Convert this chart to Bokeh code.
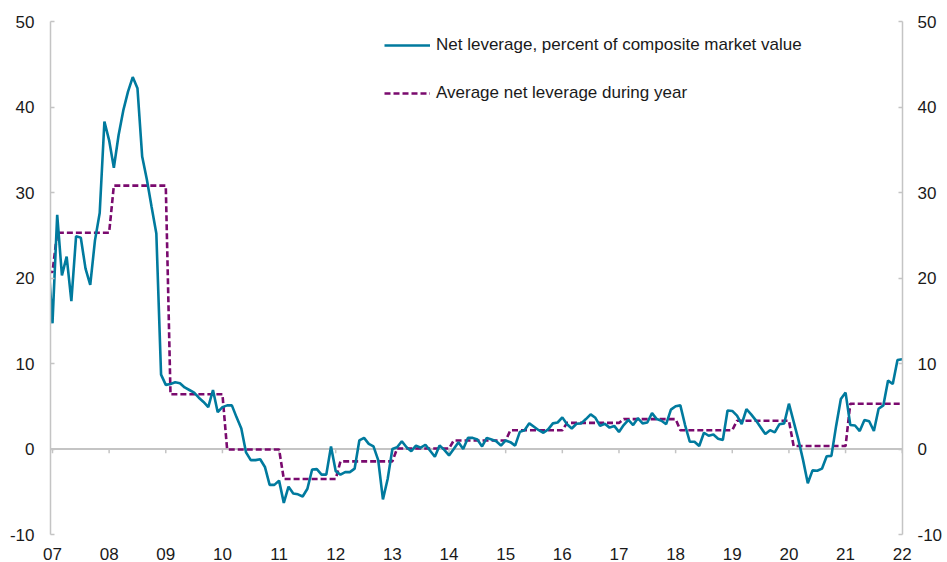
from bokeh.plotting import figure
from bokeh.models import (Range1d, LinearAxis, FixedTicker, Span, Legend, LegendItem,
                          ColumnDataSource)
from bokeh.embed import file_html
from bokeh.resources import INLINE

# ---- data ----
# month index: -1 = Nov 2006, 0 = Dec 2006, ..., 180 = Dec 2021 (month-end values)
month_index = list(range(-1, 181))
net_leverage = [
    23.0, 14.7,
    27.4, 20.3, 22.5, 17.3, 24.9, 24.7, 21.1, 19.2, 24.4, 27.6, 38.3, 36.1,   # 2007
    32.9, 36.7, 39.6, 41.8, 43.5, 42.2, 34.2, 31.5, 28.3, 25.2, 8.7, 7.5,     # 2008
    7.6, 7.8, 7.7, 7.2, 6.9, 6.6, 6.0, 5.5, 4.9, 6.9, 4.3, 4.9,               # 2009
    5.1, 5.1, 3.7, 2.4, -0.4, -1.3, -1.3, -1.2, -2.1, -4.2, -4.2, -3.7,       # 2010
    -6.3, -4.4, -5.2, -5.3, -5.55, -4.65, -2.4, -2.35, -3.0, -3.0, 0.3, -2.6, # 2011
    -3.0, -2.7, -2.7, -2.3, 1.0, 1.3, 0.6, 0.3, -1.3, -5.9, -3.5, 0.0,        # 2012
    0.2, 0.9, 0.2, -0.25, 0.4, 0.15, 0.5, -0.2, -0.9, 0.4, -0.1, -0.75,       # 2013
    0.0, 0.8, 0.0, 1.3, 1.3, 1.1, 0.3, 1.3, 1.1, 0.9, 0.4, 1.0,               # 2014
    0.8, 0.4, 2.0, 2.2, 3.0, 2.6, 2.2, 1.9, 2.3, 3.0, 3.1, 3.7,               # 2015
    2.9, 2.4, 2.95, 3.0, 3.5, 4.05, 3.65, 2.7, 2.95, 2.5, 2.7, 2.0,           # 2016
    2.8, 3.4, 2.8, 3.6, 3.0, 3.1, 4.2, 3.5, 3.3, 2.9, 4.6, 5.0,               # 2017
    5.1, 2.8, 0.85, 0.85, 0.35, 1.9, 1.55, 1.7, 1.2, 1.05, 4.5, 4.45,         # 2018
    3.9, 2.9, 4.65, 4.05, 3.35, 2.55, 1.75, 2.2, 1.95, 2.9, 3.0, 5.3,         # 2019
    3.2, 1.1, -1.3, -4.0, -2.5, -2.55, -2.3, -0.85, -0.8, 2.7, 5.85, 6.6,     # 2020
    2.8, 2.75, 2.1, 3.4, 3.25, 2.1, 4.7, 5.1, 8.0, 7.6, 10.4, 10.5,           # 2021
]
avg_years = [2006, 2007, 2008, 2009, 2010, 2011, 2012, 2013, 2014, 2015,
             2016, 2017, 2018, 2019, 2020, 2021]
annual_avg = [20.7, 25.3, 30.8, 6.4, -0.05, -3.5, -1.45, 0.05, 1.0, 2.2,
              3.05, 3.5, 2.2, 3.3, 0.35, 5.3]
tick_years = list(range(2007, 2023))
tick_labels = ["07", "08", "09", "10", "11", "12", "13", "14", "15", "16",
               "17", "18", "19", "20", "21", "22"]
y_ticks = [-10, 0, 10, 20, 30, 40, 50]
y_labels = ["-10", "0", "10", "20", "30", "40", "50"]

# ---- build series ----
xs = [2007 + m / 12 for m in month_index]
avg_lookup = dict(zip(avg_years, annual_avg))
# month m (>=1) belongs to calendar year 2007 + (m-1)//12 ; m<=0 -> 2006
step_vals = [avg_lookup[2006 if m <= 0 else 2007 + (m - 1) // 12] for m in month_index]

src = ColumnDataSource(dict(x=xs, lev=net_leverage, avg=step_vals))

BLUE = "#007a9e"
PURPLE = "#7a0a6e"
GRAY = "#c4c4c4"
FONT = "Liberation Sans"
TXT = "#1a1a1a"

p = figure(width=947, height=562, output_backend="svg", toolbar_location=None,
           x_range=Range1d(2006.965, 2022.005), y_range=Range1d(-10, 50),
           min_border_left=50, min_border_right=45, min_border_top=21,
           min_border_bottom=28)
p.outline_line_color = None
p.xgrid.visible = False
p.ygrid.visible = False
p.background_fill_color = "white"
p.border_fill_color = "white"

# zero line
p.add_layout(Span(location=0, dimension="width", line_color=GRAY, line_width=2,
                  level="underlay"))
# x ticks on the zero line
tick_src = ColumnDataSource(dict(x=tick_years, y0=[0] * len(tick_years),
                                 y1=[-0.5] * len(tick_years)))
p.segment(x0="x", y0="y0", x1="x", y1="y1", source=tick_src, line_color=GRAY,
          line_width=1.5, level="underlay")

r_avg = p.line("x", "avg", source=src, line_color=PURPLE, line_width=2.6,
               line_dash="6 3")
r_lev = p.line("x", "lev", source=src, line_color=BLUE, line_width=2.6)

# x axis (labels only)
xa = p.xaxis[0]
xa.ticker = FixedTicker(ticks=tick_years)
xa.major_label_overrides = {y: l for y, l in zip(tick_years, tick_labels)}
xa.axis_line_color = None
xa.major_tick_line_color = None
xa.minor_tick_line_color = None
xa.major_label_standoff = 7
xa.major_label_text_font = FONT
xa.major_label_text_font_size = "17px"
xa.major_label_text_color = TXT

def style_y(ax, standoff):
    ax.ticker = FixedTicker(ticks=y_ticks)
    ax.major_label_overrides = {t: l for t, l in zip(y_ticks, y_labels)}
    ax.axis_line_color = GRAY
    ax.axis_line_width = 1.5
    ax.major_tick_line_color = GRAY
    ax.major_tick_line_width = 1.5
    ax.major_tick_in = 4
    ax.major_tick_out = 0
    ax.minor_tick_line_color = None
    ax.major_label_standoff = standoff
    ax.major_label_text_font = FONT
    ax.major_label_text_font_size = "17px"
    ax.major_label_text_color = TXT

style_y(p.yaxis[0], 16)
ra = LinearAxis()
style_y(ra, 15)
p.add_layout(ra, "right")

legend = Legend(items=[
    LegendItem(label="Net leverage, percent of composite market value", renderers=[r_lev]),
    LegendItem(label="Average net leverage during year", renderers=[r_avg]),
], location=(334, 431))
legend.border_line_alpha = 0
legend.background_fill_alpha = 0
legend.padding = 0
legend.margin = 0
legend.glyph_width = 46
legend.glyph_height = 20
legend.label_height = 20
legend.spacing = 28
legend.label_standoff = 6
legend.label_text_font = FONT
legend.label_text_font_size = "17px"
legend.label_text_color = TXT
p.add_layout(legend, "center")

open("out.html", "w").write(file_html(p, INLINE))
